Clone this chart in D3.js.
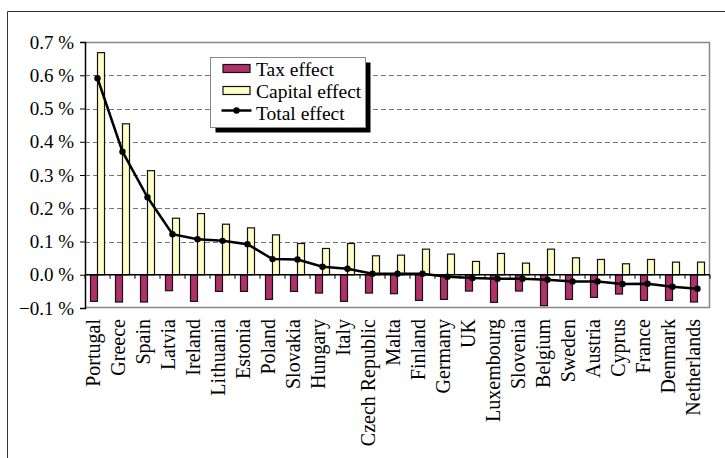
<!DOCTYPE html>
<html>
<head>
<meta charset="utf-8">
<script src="https://cdn.jsdelivr.net/npm/d3@7"></script>
<style>
  body { margin: 0; background: #fff; }
  text { font-family: "Liberation Serif", "Times New Roman", serif; }
</style>
</head>
<body>
<div id="chart"></div>
<script>
// data (percent)
const countries = ["Portugal", "Greece", "Spain", "Latvia", "Ireland", "Lithuania", "Estonia",
  "Poland", "Slovakia", "Hungary", "Italy", "Czech Republic", "Malta", "Finland", "Germany",
  "UK", "Luxembourg", "Slovenia", "Belgium", "Sweden", "Austria", "Cyprus", "France",
  "Denmark", "Netherlands"];
const taxEffect = [-0.080, -0.082, -0.082, -0.048, -0.080, -0.050, -0.050, -0.074, -0.050,
  -0.055, -0.080, -0.055, -0.057, -0.077, -0.074, -0.049, -0.083, -0.049, -0.093, -0.074,
  -0.068, -0.058, -0.077, -0.077, -0.082];
const capitalEffect = [0.668, 0.454, 0.313, 0.170, 0.184, 0.152, 0.141, 0.120, 0.094, 0.079,
  0.094, 0.057, 0.059, 0.077, 0.062, 0.040, 0.064, 0.035, 0.077, 0.051, 0.046, 0.033,
  0.046, 0.038, 0.038];
const totalEffect = [0.591, 0.370, 0.233, 0.122, 0.107, 0.102, 0.092, 0.047, 0.046, 0.024,
  0.018, 0.003, 0.003, 0.003, -0.006, -0.010, -0.012, -0.012, -0.015, -0.020, -0.020,
  -0.028, -0.027, -0.036, -0.042];
const yTicks = [-0.1, 0, 0.1, 0.2, 0.3, 0.4, 0.5, 0.6, 0.7];

const W = 725, H = 458;
const plot = { left: 85, top: 42, right: 710, bottom: 308 };

const svg = d3.select("#chart").append("svg")
  .attr("width", W).attr("height", H);

// outer frame (cropped)
svg.append("path")
  .attr("d", `M7.5,${H} V11.5 H${W}`)
  .attr("fill", "none").attr("stroke", "#333").attr("stroke-width", 1);

const x = d3.scaleBand().domain(countries).range([plot.left, plot.right]);
const y = d3.scaleLinear().domain([-0.1, 0.7]).range([plot.bottom, plot.top]);

// gridlines
svg.append("g").selectAll("line")
  .data(yTicks.filter(d => d > 0 && d < 0.7))
  .join("line")
  .attr("x1", plot.left).attr("x2", plot.right)
  .attr("y1", d => Math.round(y(d)) + 0.5).attr("y2", d => Math.round(y(d)) + 0.5)
  .attr("stroke", "#777").attr("stroke-dasharray", "5,3");

// plot border (gray)
svg.append("path")
  .attr("d", `M${plot.left},${plot.top + 0.5} H${plot.right - 0.5} V${plot.bottom - 0.5} H${plot.left}`)
  .attr("fill", "none").attr("stroke", "#888").attr("stroke-width", 1.5);

// y axis
const yAxis = d3.axisLeft(y).tickValues(yTicks).tickSize(5).tickPadding(6)
  .tickFormat(d => d3.format(".1f")(d) + " %");
const gy = svg.append("g").attr("transform", `translate(${plot.left},0)`).call(yAxis);
gy.select(".domain").attr("stroke", "#000").attr("stroke-width", 1.5);
gy.selectAll("text").attr("font-size", 19).attr("fill", "#000")
  .style("font-family", "'Liberation Serif', serif");

// bars
const bw = 7;
svg.append("g").selectAll("rect")
  .data(countries)
  .join("rect")
  .attr("x", (d) => x(d) + x.bandwidth() / 2 - bw)
  .attr("y", y(0))
  .attr("width", bw)
  .attr("height", (d, i) => y(taxEffect[i]) - y(0))
  .attr("fill", "#b0306a").attr("stroke", "#111").attr("stroke-width", 1.2);

svg.append("g").selectAll("rect")
  .data(countries)
  .join("rect")
  .attr("x", (d) => x(d) + x.bandwidth() / 2)
  .attr("y", (d, i) => y(capitalEffect[i]))
  .attr("width", bw)
  .attr("height", (d, i) => y(0) - y(capitalEffect[i]))
  .attr("fill", "#ffffc6").attr("stroke", "#111").attr("stroke-width", 1.2);

// category axis at zero
const gx = svg.append("g").attr("transform", `translate(0,${y(0)})`);
gx.append("line").attr("x1", plot.left).attr("x2", plot.right)
  .attr("stroke", "#000").attr("stroke-width", 1.5);
gx.selectAll(".tick")
  .data(countries.concat(["end"]))
  .join("line")
  .attr("x1", (d, i) => plot.left + i * x.step()).attr("x2", (d, i) => plot.left + i * x.step())
  .attr("y1", 0).attr("y2", 4)
  .attr("stroke", "#000");

// category labels
svg.append("g").selectAll("text")
  .data(countries)
  .join("text")
  .attr("transform", d => `translate(${x(d) + x.bandwidth() / 2},319) rotate(-90)`)
  .attr("text-anchor", "end")
  .attr("dy", "0.1em")
  .attr("font-size", 20)
  .text(d => d);

// total effect line
const line = d3.line()
  .x(d => x(d[0]) + x.bandwidth() / 2)
  .y(d => y(d[1]));
const pts = countries.map((c, i) => [c, totalEffect[i]]);
svg.append("path").datum(pts)
  .attr("d", line).attr("fill", "none")
  .attr("stroke", "#000").attr("stroke-width", 2.5);
svg.append("g").selectAll("circle")
  .data(pts).join("circle")
  .attr("cx", d => x(d[0]) + x.bandwidth() / 2)
  .attr("cy", d => y(d[1]))
  .attr("r", 3.2).attr("fill", "#000");

// legend
const lg = svg.append("g").attr("transform", "translate(210.5,57.5)");
lg.append("rect").attr("x", 5).attr("y", 5).attr("width", 155).attr("height", 70).attr("fill", "#000");
lg.append("rect").attr("x", 0).attr("y", 0).attr("width", 155).attr("height", 70)
  .attr("fill", "#fff").attr("stroke", "#888").attr("stroke-width", 1);
const legendItems = [
  { name: "Tax effect", type: "rect", color: "#b0306a" },
  { name: "Capital effect", type: "rect", color: "#ffffc6" },
  { name: "Total effect", type: "line" }
];
legendItems.forEach((it, i) => {
  const cy = 11 + i * 22;
  if (it.type === "rect") {
    lg.append("rect").attr("x", 12.5).attr("y", cy - 4).attr("width", 27).attr("height", 8)
      .attr("fill", it.color).attr("stroke", "#111").attr("stroke-width", 1.2);
  } else {
    lg.append("line").attr("x1", 11).attr("x2", 41).attr("y1", cy - 2).attr("y2", cy - 2)
      .attr("stroke", "#000").attr("stroke-width", 2.5);
    lg.append("circle").attr("cx", 26).attr("cy", cy - 2).attr("r", 3.2).attr("fill", "#000");
  }
  lg.append("text").attr("x", 45.5).attr("y", cy + 7).attr("font-size", 19.5).text(it.name);
});
</script>
</body>
</html>
